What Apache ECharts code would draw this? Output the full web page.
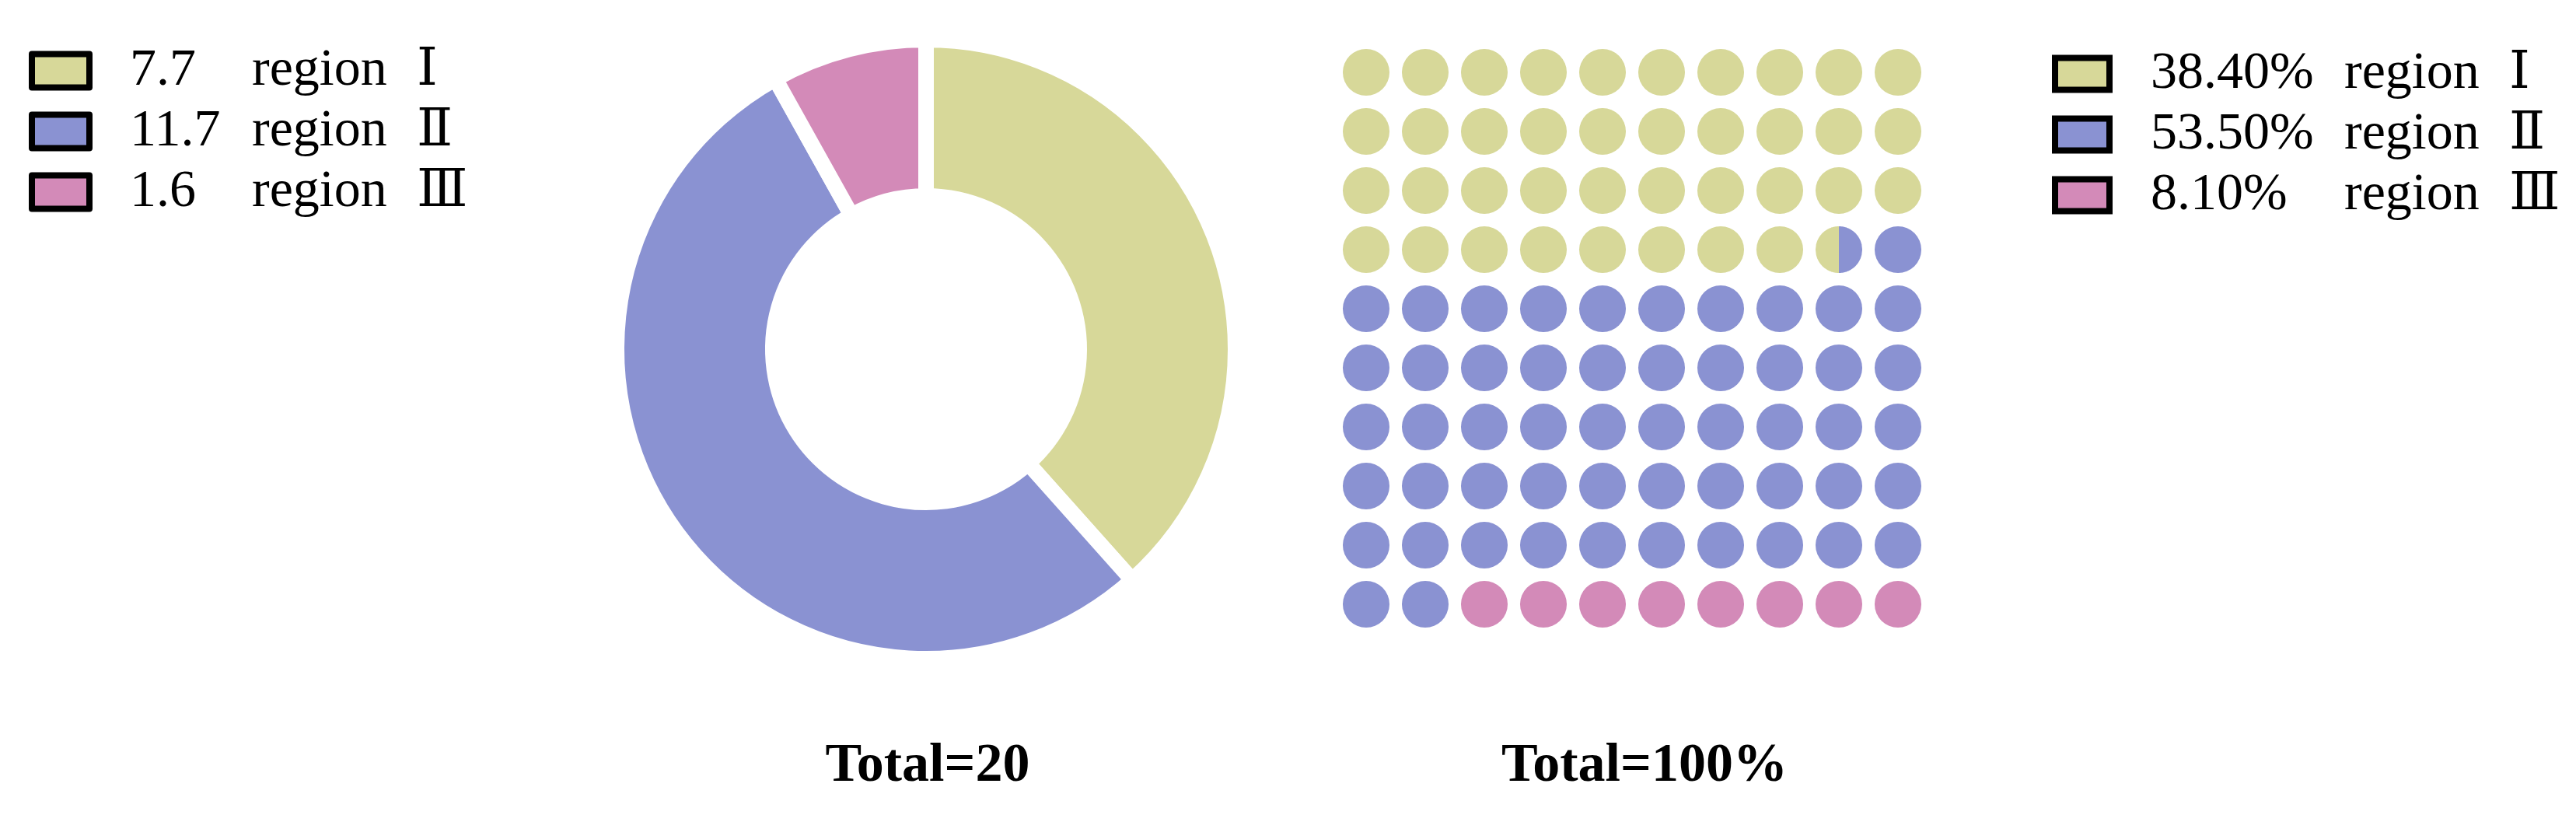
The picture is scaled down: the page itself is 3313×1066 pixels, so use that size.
<!DOCTYPE html>
<html>
<head>
<meta charset="utf-8">
<script src="https://cdn.jsdelivr.net/npm/echarts@6/dist/echarts.min.js"></script>
<style>
  html, body { margin: 0; padding: 0; background: #fff; }
  #chart { width: 3313px; height: 1066px; }
</style>
</head>
<body>
<div id="chart"></div>
<script>
// ---- data ----
const categories = ['region Ⅰ', 'region Ⅱ', 'region Ⅲ'];
const amounts = [7.7, 11.7, 1.6];
const shares = [38.4, 53.5, 8.1];           // percent
const shareLabels = ['38.40%', '53.50%', '8.10%'];
const totalLabels = ['Total=20', 'Total=100%'];
const gridCols = 10;
const gridRows = 10;

// ---- style ----
const COLORS = ['#D7D899', '#8A92D2', '#D38AB8'];
const FONT = "'Liberation Serif', 'Times New Roman', 'DejaVu Serif', serif";

const chart = echarts.init(document.getElementById('chart'), null, { renderer: 'canvas' });

// waffle cells per category (rounded to half cells)
function cellsFor(k) {
  let cumPrev = 0;
  for (let j = 0; j < k; j++) cumPrev += shares[j];
  const cum = cumPrev + shares[k];
  const start = Math.round(cumPrev * 2) / 2;
  const end = Math.round(cum * 2) / 2;
  const out = [];
  for (let i = Math.floor(start); i < Math.ceil(end); i++) {
    const from = Math.max(start - i, 0);
    const to = Math.min(end - i, 1);
    if (to > from) out.push([i % gridCols, Math.floor(i / gridCols), from, to]);
  }
  return out;
}

function renderCell(params, api) {
  const p = api.coord([api.value(0), api.value(1)]);
  const unit = api.size([1, 1]);
  const r = unit[0] * 0.395;
  const from = api.value(2), to = api.value(3);
  const fill = api.visual('color');
  if (from <= 0 && to >= 1) {
    return { type: 'circle', shape: { cx: p[0], cy: p[1], r: r }, style: { fill: fill } };
  }
  const x0 = p[0] - r + 2 * r * from, x1 = p[0] - r + 2 * r * to;
  const N = 40, top = [], bot = [];
  for (let j = 0; j <= N; j++) {
    const x = x0 + (x1 - x0) * j / N;
    const dy = Math.sqrt(Math.max(0, r * r - (x - p[0]) * (x - p[0])));
    top.push([x, p[1] - dy]);
    bot.unshift([x, p[1] + dy]);
  }
  return { type: 'polygon', shape: { points: top.concat(bot) }, style: { fill: fill } };
}

const waffleNames = categories.map(c => c + ' share');

function richStyles(vWidth, vPad) {
  return {
    v: { fontFamily: FONT, fontSize: 68, lineHeight: 70, color: '#000', width: vWidth, padding: [0, 0, 0, vPad] },
    n: { fontFamily: FONT, fontSize: 68, lineHeight: 70, color: '#000', width: 212 },
    r: { fontFamily: FONT, fontSize: 68, lineHeight: 70, color: '#000' }
  };
}
function splitName(cat) {
  const parts = cat.split(' ');
  return { word: parts[0], num: parts[1] };
}

const option = {
  animation: false,
  backgroundColor: '#fff',
  color: COLORS,
  legend: [
    {
      orient: 'vertical', left: 37, top: 57, padding: 0,
      itemWidth: 74, itemHeight: 43, itemGap: 10,
      icon: 'rect', selectedMode: false,
      itemStyle: { borderColor: '#000', borderWidth: 8 },
      data: categories,
      formatter: function (name) {
        const i = categories.indexOf(name);
        const s = splitName(name);
        return '{v|' + amounts[i] + '}{n|' + s.word + '}{r|' + s.num + '}';
      },
      textStyle: { rich: richStyles(157, 47) }
    },
    {
      orient: 'vertical', left: 2639, top: 61, padding: 0,
      itemWidth: 70, itemHeight: 41, itemGap: 10,
      icon: 'rect', selectedMode: false,
      itemStyle: { borderColor: '#000', borderWidth: 8 },
      data: waffleNames,
      formatter: function (name) {
        const i = waffleNames.indexOf(name);
        const s = splitName(categories[i]);
        return '{v|' + shareLabels[i] + '}{n|' + s.word + '}{r|' + s.num + '}';
      },
      textStyle: { rich: richStyles(249, 48) }
    }
  ],
  grid: { left: 1719, width: 760, top: 55, height: 760 },
  xAxis: { type: 'value', min: -0.5, max: gridCols - 0.5, show: false },
  yAxis: { type: 'value', min: -0.5, max: gridRows - 0.5, inverse: true, show: false },
  graphic: [
    { type: 'text', x: 1193, y: 986, silent: true,
      style: { text: totalLabels[0], font: 'bold 70px ' + FONT, fill: '#000', align: 'center', verticalAlign: 'middle' } },
    { type: 'text', x: 2115, y: 986, silent: true,
      style: { text: totalLabels[1], font: 'bold 70px ' + FONT, fill: '#000', align: 'center', verticalAlign: 'middle' } }
  ],
  series: [
    {
      type: 'pie',
      name: 'amounts',
      center: [1191, 449],
      radius: [197, 398],
      startAngle: 90,
      clockwise: true,
      silent: true,
      label: { show: false },
      labelLine: { show: false },
      itemStyle: { borderColor: '#fff', borderWidth: 20 },
      data: categories.map((c, i) => ({ name: c, value: shares[i] }))
    }
  ].concat(categories.map((c, k) => ({
    type: 'custom',
    name: waffleNames[k],
    coordinateSystem: 'cartesian2d',
    silent: true,
    itemStyle: { color: COLORS[k] },
    renderItem: renderCell,
    encode: { x: 0, y: 1 },
    data: cellsFor(k)
  })))
};

chart.setOption(option);
</script>
</body>
</html>
